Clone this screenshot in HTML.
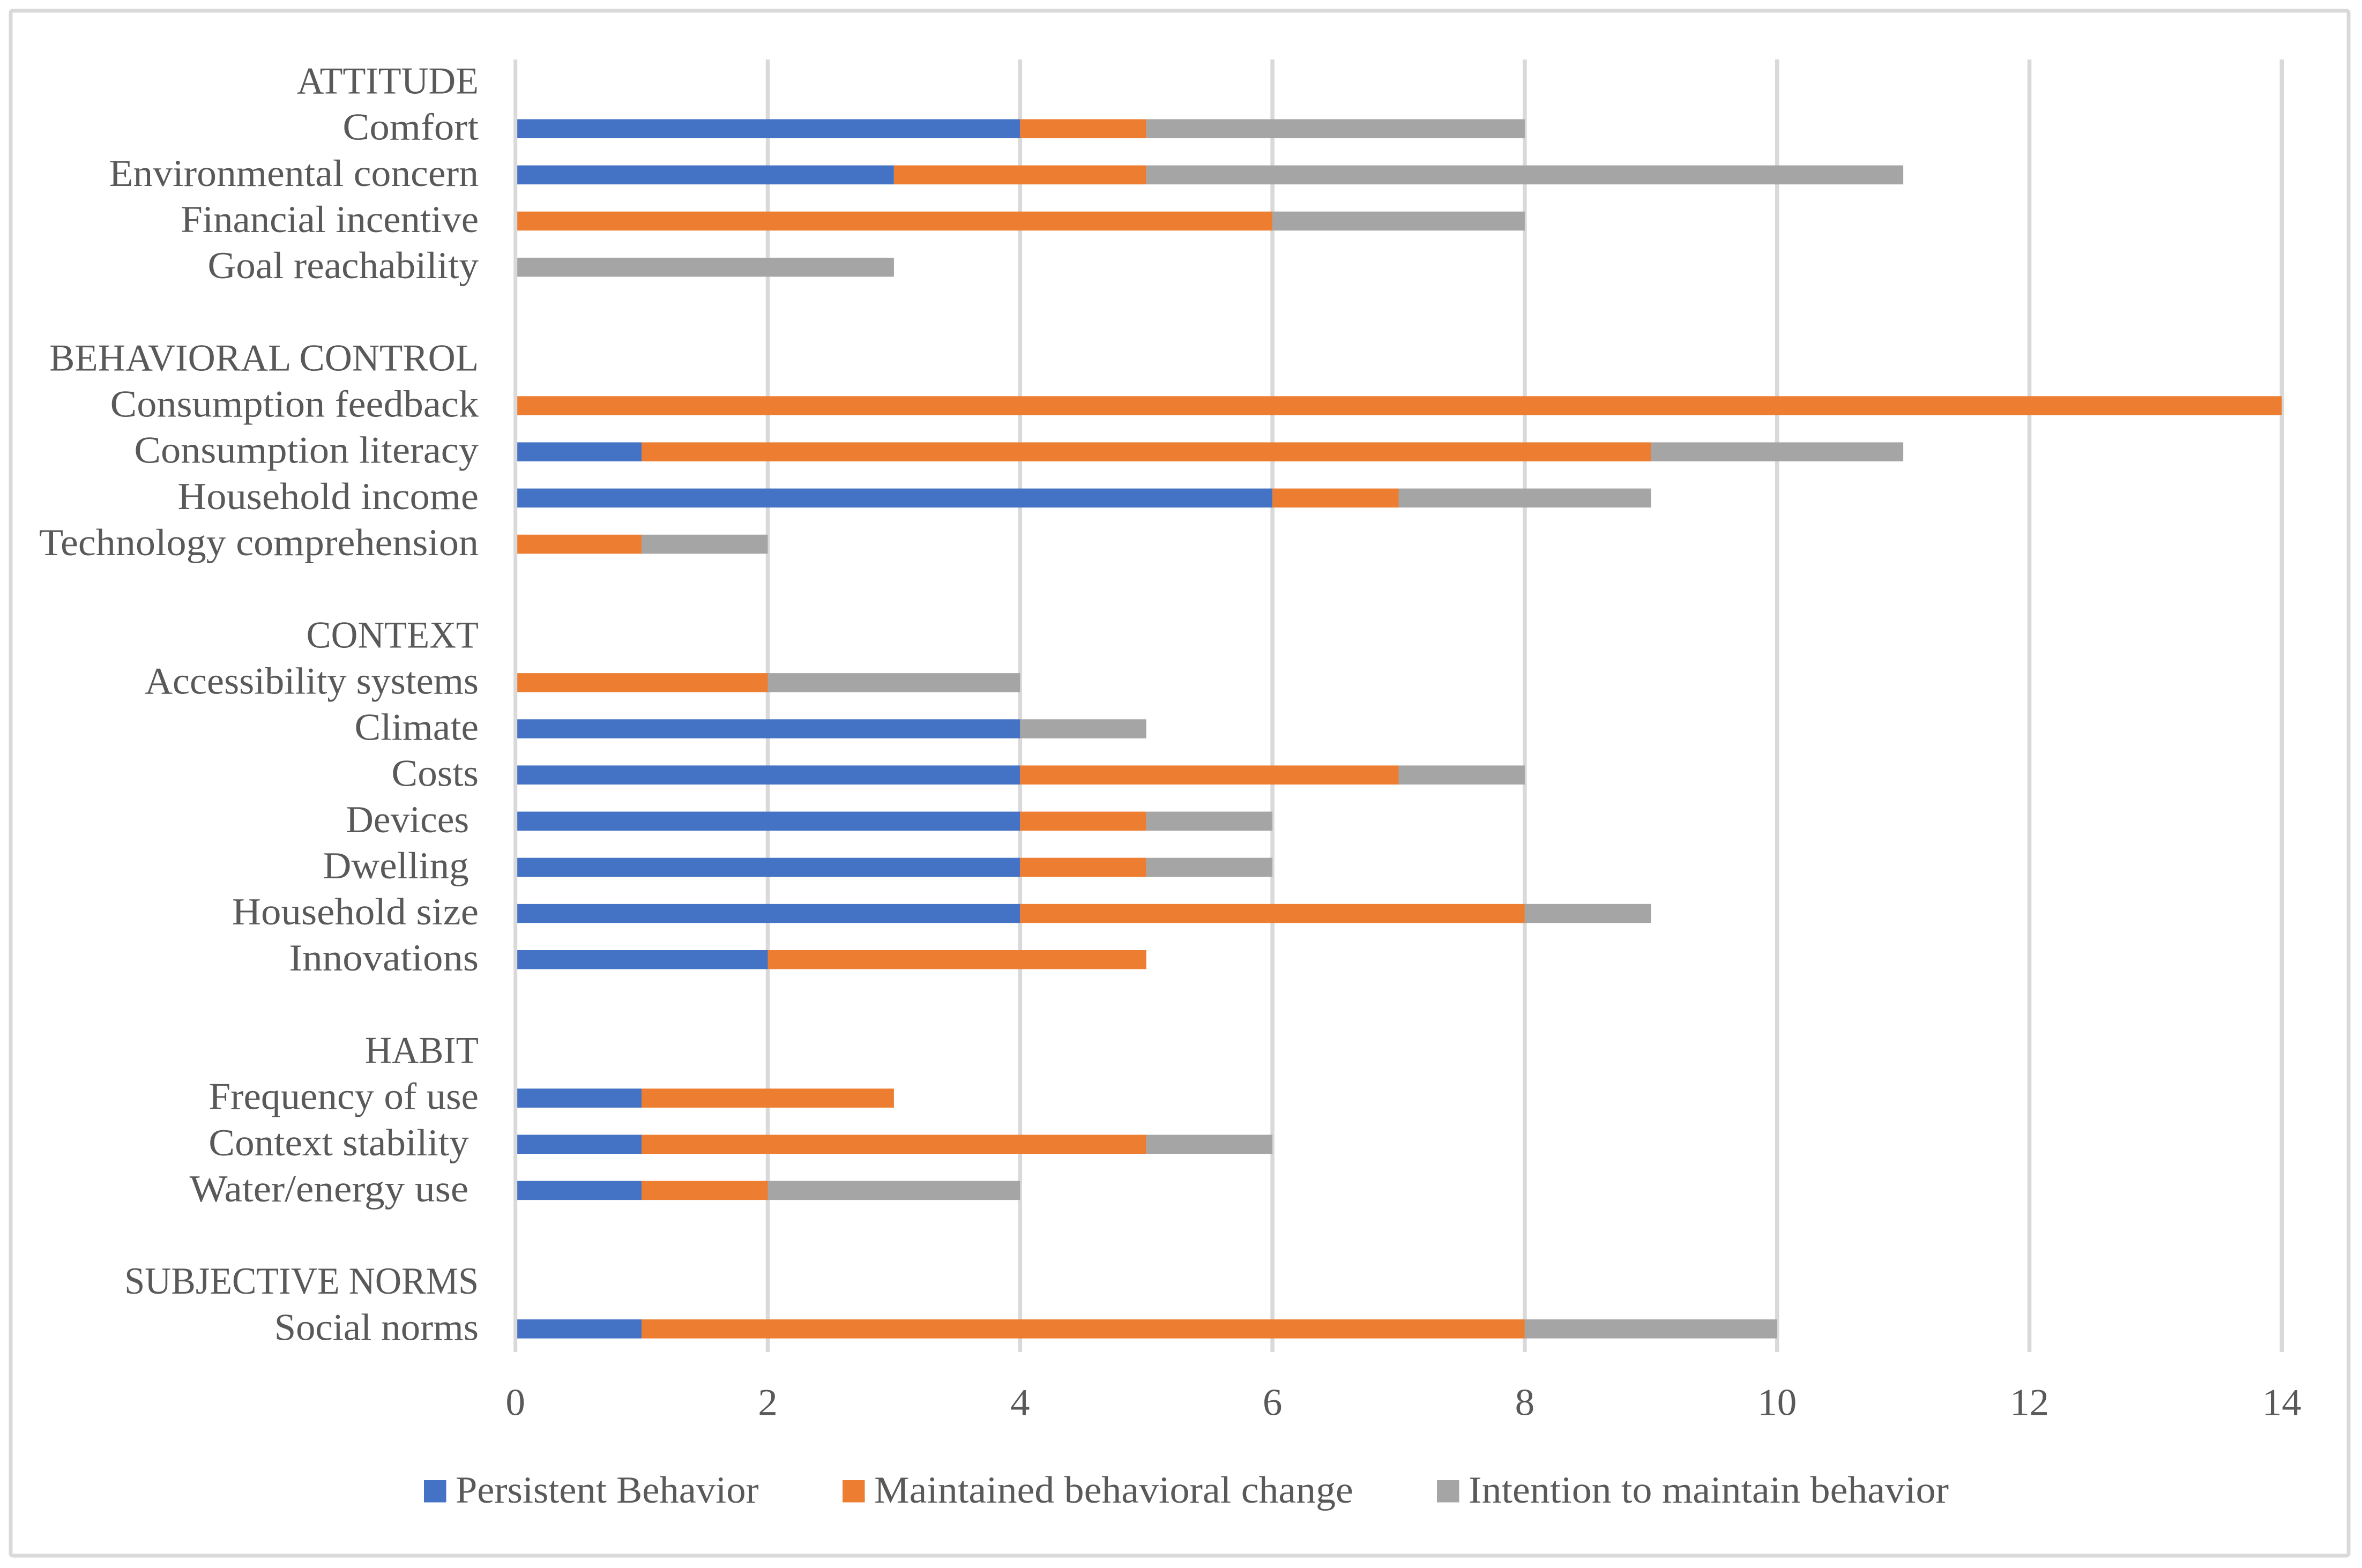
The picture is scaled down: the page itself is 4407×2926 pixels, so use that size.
<!DOCTYPE html>
<html lang="en">
<head>
<meta charset="utf-8">
<title>Stacked bar chart of behavior determinants</title>
<style>
html,body{margin:0;padding:0;background:#fff;width:4407px;height:2926px;overflow:hidden}
svg{display:block}
text{font-family:"Liberation Serif",serif;font-size:71px;fill:#595959;white-space:pre}
</style>
</head>
<body>
<svg id="chart" width="4407" height="2926" viewBox="0 0 4407 2926" xmlns="http://www.w3.org/2000/svg">
<rect x="20" y="20" width="4362" height="2883" rx="4" fill="#fff" stroke="#d9d9d9" stroke-width="7"/>
<g id="grid"></g>
<g id="bars"></g>
<g id="axis0"></g>
<g id="cats"></g>
<g id="ticks"></g>
<g id="legend"></g>
</svg>
<script>
const categories = ["ATTITUDE","Comfort","Environmental concern","Financial incentive","Goal reachability","",
"BEHAVIORAL CONTROL","Consumption feedback","Consumption literacy","Household income","Technology comprehension","",
"CONTEXT","Accessibility systems","Climate","Costs","Devices ","Dwelling ","Household size","Innovations","",
"HABIT","Frequency of use","Context stability ","Water/energy use ","",
"SUBJECTIVE NORMS","Social norms"];
const persistent = [0,4,3,0,0,0, 0,0,1,6,0,0, 0,0,4,4,4,4,4,2,0, 0,1,1,1,0, 0,1];
const maintained = [0,1,2,6,0,0, 0,14,8,1,1,0, 0,2,0,3,1,1,4,3,0, 0,2,4,1,0, 0,7];
const intention  = [0,3,6,2,3,0, 0,0,2,2,1,0, 0,2,1,1,1,1,1,0,0, 0,0,1,2,0, 0,2];
const tickValues = [0,2,4,6,8,10,12,14];
const seriesNames = ["Persistent Behavior","Maintained behavioral change","Intention to maintain behavior"];

const NS = "http://www.w3.org/2000/svg";
const X0 = 961.7, UNIT = 235.4, TOP = 111, ROW = 86.14, BOTTOM = 2523, BAR_H = 35.5, TEXT_K = 1.03;
const COLORS = ["#4472C4","#ED7D31","#A5A5A5"];
// horizontal text fit, per label, to approximate the wider reference typeface
const labelFit = {
  "ATTITUDE":0.989,"Comfort":1.054,"Environmental concern":1.038,"Financial incentive":1.025,"Goal reachability":1.03,
  "BEHAVIORAL CONTROL":0.998,"Consumption feedback":1.047,"Consumption literacy":1.048,"Household income":1.051,"Technology comprehension":1.044,
  "CONTEXT":0.97,"Accessibility systems":1.016,"Climate":1.03,"Costs":1.03,"Devices ":1.005,"Dwelling ":1.03,"Household size":1.056,"Innovations":1.055,
  "HABIT":0.978,"Frequency of use":1.03,"Context stability ":1.03,"Water/energy use ":1.059,
  "SUBJECTIVE NORMS":0.96,"Social norms":1.023,
  "Persistent Behavior":1.021,"Maintained behavioral change":1.04,"Intention to maintain behavior":1.04
};
const xScale = v => X0 + v * UNIT;
const yScale = i => TOP + (i + 0.5) * ROW;
const series = [persistent, maintained, intention];

function mk(tag, attrs, parent) {
  const el = document.createElementNS(NS, tag);
  for (const k in attrs) el.setAttribute(k, attrs[k]);
  parent.appendChild(el);
  return el;
}
function label(str, x, y, anchor, parent) {
  const k = labelFit[str] || TEXT_K;
  const el = mk("text", {"text-anchor": anchor, transform: "translate(" + x + "," + y + ") scale(" + k + ",1)"}, parent);
  el.textContent = str;
  return el;
}

const gridG = document.getElementById("grid");
const ticksG = document.getElementById("ticks");
tickValues.forEach(t => {
  if (t !== 0) {
    const line = mk("rect", {x: xScale(t) - 3.75, y: TOP, width: 7.5, height: BOTTOM - TOP, fill: "#d9d9d9"}, gridG);
    
    
  }
  const tl = label(String(t), xScale(t), 2640.5, "middle", ticksG);
  
  
});

const barsG = document.getElementById("bars");
const catsG = document.getElementById("cats");
categories.forEach((c, i) => {
  let acc = 0;
  series.forEach((s, si) => {
    const v = s[i];
    if (v > 0) {
      const r = mk("rect", {x: xScale(acc), y: yScale(i) - BAR_H / 2, width: xScale(acc + v) - xScale(acc), height: BAR_H, fill: COLORS[si]}, barsG);
      
      
    }
    acc += v;
  });
  if (c) {
    const t = label(c, 893, yScale(i) + 20.5, "end", catsG);
    
    
  }
});

const axisLine = mk("rect", {x: xScale(0) - 3.5, y: TOP, width: 7, height: BOTTOM - TOP, fill: "#d9d9d9"}, document.getElementById("axis0"));



const legendG = document.getElementById("legend");
const legendSwatchX = [791, 1572, 2681];
seriesNames.forEach((n, i) => {
  const sw = mk("rect", {x: legendSwatchX[i], y: 2762, width: 41.5, height: 41.5, fill: COLORS[i]}, legendG);
  
  
  const t = label(n, legendSwatchX[i] + 59, 2804, "start", legendG);
  
  
});
</script>
</body>
</html>
